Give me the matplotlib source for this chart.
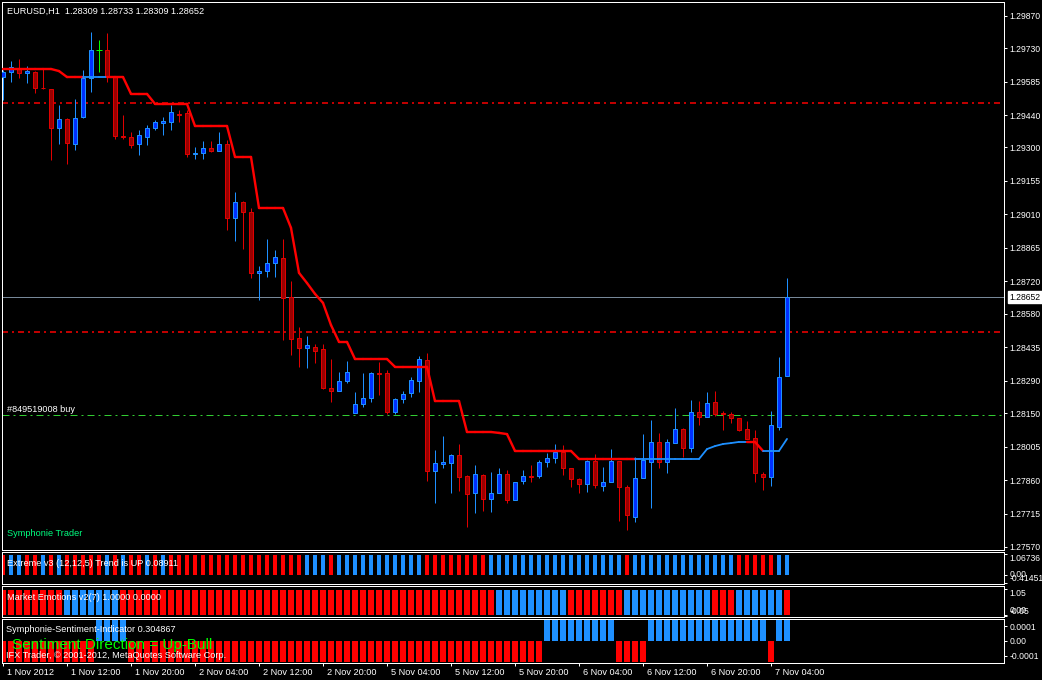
import matplotlib
matplotlib.use("Agg")
import matplotlib.pyplot as plt
from matplotlib.patches import Rectangle
from matplotlib.collections import LineCollection
import matplotlib.transforms as mtrans

plt.rcParams['font.family'] = ['Liberation Sans Narrow', 'Liberation Sans', 'DejaVu Sans']
plt.rcParams['lines.scale_dashes'] = False

# ---------------- data (EURUSD H1) ----------------
time_labels = ["1 Nov 2012", "1 Nov 12:00", "1 Nov 20:00", "2 Nov 04:00", "2 Nov 12:00",
               "2 Nov 20:00", "5 Nov 04:00", "5 Nov 12:00", "5 Nov 20:00", "6 Nov 04:00",
               "6 Nov 12:00", "6 Nov 20:00", "7 Nov 04:00"]
time_label_bars = [0, 8, 16, 24, 32, 40, 48, 56, 64, 72, 80, 88, 96]

opens = [1.29605, 1.29627, 1.29644, 1.29623, 1.29627, 1.29558, 1.29553, 1.29385, 1.29424, 1.29315,
         1.29432, 1.29601, 1.29722, 1.29722, 1.29605, 1.29350, 1.29346, 1.29315, 1.29346, 1.29385,
         1.29406, 1.29411, 1.29445, 1.29450, 1.29272, 1.29276, 1.29298, 1.29285, 1.29315, 1.28995,
         1.29064, 1.29021, 1.28757, 1.28765, 1.28800, 1.28822, 1.28653, 1.28475, 1.28432, 1.28436,
         1.28427, 1.28259, 1.28246, 1.28289, 1.28150, 1.28189, 1.28215, 1.28324, 1.28324, 1.28155,
         1.28211, 1.28237, 1.28289, 1.28380, 1.27899, 1.27929, 1.27934, 1.27968, 1.27877, 1.27804,
         1.27882, 1.27778, 1.27804, 1.27886, 1.27774, 1.27856, 1.27877, 1.27877, 1.27938, 1.27955,
         1.27981, 1.27912, 1.27864, 1.27843, 1.27942, 1.27834, 1.27851, 1.27942, 1.27830, 1.27700,
         1.27869, 1.27938, 1.28025, 1.27938, 1.28020, 1.28081, 1.27999, 1.28155, 1.28133, 1.28198,
         1.28150, 1.28146, 1.28129, 1.28081, 1.28042, 1.27886, 1.27873, 1.28090, 1.28309]
highs = [1.29636, 1.29675, 1.29683, 1.29653, 1.29631, 1.29640, 1.29555, 1.29484, 1.29428, 1.29510,
         1.29636, 1.29800, 1.29766, 1.29796, 1.29605, 1.29441, 1.29367, 1.29376, 1.29398, 1.29419,
         1.29432, 1.29484, 1.29463, 1.29463, 1.29302, 1.29328, 1.29328, 1.29367, 1.29333, 1.29107,
         1.29068, 1.29038, 1.28787, 1.28904, 1.28856, 1.28904, 1.28722, 1.28523, 1.28484, 1.28449,
         1.28449, 1.28384, 1.28328, 1.28376, 1.28241, 1.28324, 1.28328, 1.28371, 1.28337, 1.28215,
         1.28246, 1.28306, 1.28397, 1.28410, 1.27990, 1.28051, 1.27973, 1.28016, 1.27882, 1.27925,
         1.27886, 1.27895, 1.27912, 1.27903, 1.27851, 1.27903, 1.27925, 1.27947, 1.27977, 1.28016,
         1.28012, 1.27912, 1.27869, 1.27947, 1.27973, 1.27916, 1.27994, 1.27942, 1.27838, 1.27960,
         1.28059, 1.28120, 1.28064, 1.28038, 1.28172, 1.28085, 1.28207, 1.28202, 1.28241, 1.28246,
         1.28159, 1.28155, 1.28129, 1.28116, 1.28077, 1.27895, 1.28159, 1.28393, 1.28733]
lows = [1.29506, 1.29584, 1.29601, 1.29579, 1.29536, 1.29553, 1.29246, 1.29315, 1.29229, 1.29289,
        1.29428, 1.29541, 1.29627, 1.29584, 1.29337, 1.29337, 1.29298, 1.29268, 1.29311, 1.29376,
        1.29354, 1.29376, 1.29411, 1.29259, 1.29250, 1.29250, 1.29281, 1.29285, 1.28943, 1.28895,
        1.28861, 1.28735, 1.28640, 1.28739, 1.28739, 1.28466, 1.28401, 1.28350, 1.28345, 1.28367,
        1.28255, 1.28198, 1.28246, 1.28280, 1.28150, 1.28176, 1.28198, 1.28228, 1.28146, 1.28146,
        1.28194, 1.28220, 1.28241, 1.27856, 1.27761, 1.27912, 1.27804, 1.27812, 1.27657, 1.27717,
        1.27726, 1.27722, 1.27804, 1.27761, 1.27774, 1.27843, 1.27851, 1.27869, 1.27916, 1.27934,
        1.27882, 1.27830, 1.27804, 1.27808, 1.27825, 1.27812, 1.27851, 1.27683, 1.27644, 1.27678,
        1.27869, 1.27739, 1.27912, 1.27890, 1.28020, 1.27960, 1.27981, 1.28098, 1.28133, 1.28137,
        1.28077, 1.28107, 1.28072, 1.28038, 1.27851, 1.27817, 1.27834, 1.28077, 1.28309]
closes = [1.29627, 1.29649, 1.29623, 1.29631, 1.29558, 1.29556, 1.29385, 1.29424, 1.29320, 1.29428,
          1.29601, 1.29722, 1.29722, 1.29605, 1.29350, 1.29346, 1.29311, 1.29354, 1.29385, 1.29411,
          1.29415, 1.29454, 1.29441, 1.29272, 1.29276, 1.29298, 1.29285, 1.29315, 1.28995, 1.29064,
          1.29021, 1.28757, 1.28765, 1.28800, 1.28826, 1.28648, 1.28471, 1.28432, 1.28445, 1.28419,
          1.28259, 1.28246, 1.28289, 1.28328, 1.28189, 1.28215, 1.28324, 1.28319, 1.28155, 1.28211,
          1.28233, 1.28293, 1.28384, 1.27899, 1.27934, 1.27938, 1.27968, 1.27873, 1.27799, 1.27886,
          1.27778, 1.27804, 1.27886, 1.27774, 1.27851, 1.27877, 1.27873, 1.27938, 1.27955, 1.27981,
          1.27912, 1.27864, 1.27843, 1.27942, 1.27838, 1.27851, 1.27942, 1.27830, 1.27709, 1.27869,
          1.27947, 1.28025, 1.27938, 1.28025, 1.28081, 1.27999, 1.28155, 1.28133, 1.28194, 1.28146,
          1.28146, 1.28129, 1.28077, 1.28038, 1.27890, 1.27873, 1.28098, 1.28306, 1.28652]

# trailing stop line of "Symphonie Trader"
trail = [1.29640, 1.29640, 1.29640, 1.29640, 1.29640, 1.29640, 1.29640, 1.29631, 1.29605, 1.29605,
         1.29605, 1.29605, 1.29605, 1.29605, 1.29605, 1.29605, 1.29532, 1.29532, 1.29532, 1.29489,
         1.29489, 1.29489, 1.29489, 1.29489, 1.29393, 1.29393, 1.29393, 1.29393, 1.29393, 1.29259,
         1.29259, 1.29259, 1.29038, 1.29038, 1.29038, 1.29038, 1.28952, 1.28757, 1.28713, 1.28666,
         1.28627, 1.28531, 1.28458, 1.28458, 1.28384, 1.28384, 1.28384, 1.28384, 1.28384, 1.28350,
         1.28350, 1.28350, 1.28350, 1.28350, 1.28202, 1.28202, 1.28202, 1.28202, 1.28068, 1.28068,
         1.28068, 1.28068, 1.28064, 1.28059, 1.27986, 1.27986, 1.27986, 1.27986, 1.27986, 1.27986,
         1.27986, 1.27986, 1.27951, 1.27951, 1.27951, 1.27951, 1.27951, 1.27951, 1.27951, 1.27951,
         1.27951, 1.27951, 1.27951, 1.27951, 1.27951, 1.27951, 1.27951, 1.27951, 1.27994, 1.28007,
         1.28016, 1.28020, 1.28025, 1.28025, 1.28025, 1.27986, 1.27986, 1.27986, 1.28038]
trail_dir = ("DDDDDDDDDDUUUUDDDDDDDDDDDDDDDDDDDDDDDDDDDDDDDDDDDDDDDDDDDDDDDDDDDDDDDDDDDDDDDDDUUUUUUUUUUUUUUUDUUUU")

price_ticks = [1.29870, 1.29730, 1.29585, 1.29440, 1.29300, 1.29155, 1.29010, 1.28865, 1.28720,
               1.28580, 1.28435, 1.28290, 1.28150, 1.28005, 1.27860, 1.27715, 1.27570]
last_price = 1.28652
level_upper = 1.29493
level_lower = 1.28501
order_price = 1.28142

# indicator sub-windows (R = red / down, B = blue / up)
extreme_cols = ("RBBRRBRBRRRRRBRBRRBRBRR" + "RRRRRRRRRRRRRRRBBBRBBBBBBBBBBBRRRRRRRR"
                + "BBBBBBBBBBBBBBBBBRBBBBBBBBBBBBBRRRRRBB")
extreme_val = 1.0
emotion_cols = ("RRRRRRRRBBBBBBBRRRRRRRRRRRRRRRRRRRRRRRRRRRRRRRRRRRRRRRRRRRRRRR"
                "BBBBBBBBBRRRRRRRBBBBBBBBBBBRRRBBBBBB")
emotion_val = 1.0
sentiment_cols = ("RRRRRRRRRRRRBBBBRRRRRRRRRRRRRRRRRRRRRRRRRRRRRRRRRRRRRRRRRRRRRRRRRRRR"
                  "BBBBBBBBBRRRRBBBBBBBBBBBBBBBRBB")
sentiment_mag = 0.00014

# ---------------- drawing ----------------
W, H, DPI = 1042, 680, 100
PX = 72.0 / DPI
RED, BLUE = '#ff0000', '#1e90ff'
FS = 6.6
TFS = 6.2

fig = plt.figure(figsize=(W / DPI, H / DPI), dpi=DPI, facecolor='black')


def box(x0, y0, x1, y1):
    return [x0 / W, 1 - y1 / H, (x1 - x0) / W, (y1 - y0) / H]


def style(ax):
    ax.set_facecolor('black')
    for s in ax.spines.values():
        s.set_color('white')
        s.set_linewidth(PX)
    ax.set_xlim(-0.125, 125.125)
    ax.yaxis.tick_right()
    ax.tick_params(axis='y', colors='white', direction='out', length=3 * PX, width=PX,
                   pad=2.5 * PX, labelsize=TFS, labelcolor='white')
    ax.tick_params(axis='x', bottom=False, labelbottom=False)


def ftext(x, y, s, **kw):
    kw.setdefault('color', 'white')
    kw.setdefault('fontsize', FS)
    fig.text(x / W, 1 - y / H, s, va='center', ha='left', **kw)


n = len(opens)
xs = list(range(n))

# main window
ax = fig.add_axes(box(2, 2, 1004, 550))
style(ax)
ax.set_ylim(1.27557, 1.29930)
ax.set_yticks(price_ticks)
ax.set_yticklabels(["%.5f" % v for v in price_ticks])

dd = (0, (6 * PX, 4 * PX, 2 * PX, 4 * PX))
ax.axhline(level_upper, color=RED, lw=1.5 * PX, ls=dd, zorder=1)
ax.axhline(level_lower, color=RED, lw=1.5 * PX, ls=dd, zorder=1)
ax.axhline(order_price, color='#32cd32', lw=PX, ls=(0, (7 * PX, 4 * PX, 2 * PX, 4 * PX)), zorder=1)
ax.axhline(last_price, color='#778899', lw=PX, zorder=1)

for i in xs:
    o, h, l, c = opens[i], highs[i], lows[i], closes[i]
    if c > o:
        wick, fill = BLUE, '#0030ff'
    elif c < o:
        wick, fill = '#e00000', '#990000'
    else:
        wick, fill = '#00ff00', None
    ax.vlines(i, l, h, color=wick, lw=PX, zorder=3)
    if fill is None:
        ax.hlines(o, i - 0.32, i + 0.32, color=wick, lw=PX, zorder=4)
    else:
        ax.add_patch(Rectangle((i - 0.25, min(o, c)), 0.5, abs(c - o), facecolor=fill,
                               edgecolor=wick, lw=PX, zorder=4))

segs, cols, lws = [], [], []
for i in range(n - 1):
    segs.append([(i, trail[i]), (i + 1, trail[i + 1])])
    up = trail_dir[i] == 'U' and trail_dir[i + 1] == 'U'
    cols.append(BLUE if up else RED)
    lws.append(1.8 * PX if up else 2.4 * PX)
ax.add_collection(LineCollection(segs, colors=cols, linewidths=lws, capstyle='round', zorder=5))

ax.annotate("%.5f" % last_price, xy=(1, last_price), xycoords=('axes fraction', 'data'),
            xytext=(5.5 * PX, 0), textcoords='offset points', ha='left', va='center',
            color='black', fontsize=TFS, annotation_clip=False,
            bbox=dict(boxstyle='square,pad=0.15', fc='white', ec='white'))

ftext(7, 11, "EURUSD,H1  1.28309 1.28733 1.28309 1.28652")
ftext(7, 409, "#849519008 buy")
ftext(7, 533, "Symphonie Trader", color='#00ff80')

# Extreme v3
ax1 = fig.add_axes(box(2, 552, 1004, 584))
style(ax1)
ax1.set_ylim(-0.457, 1.1675)
ax1.bar(xs, [extreme_val] * n, width=0.6, color=[RED if ch == 'R' else BLUE for ch in extreme_cols])
ax1.set_yticks([1.06736, 0.0, -0.41451])
ax1.set_yticklabels(["1.06736", "0.00", "-0.41451"])
for lab, va in zip(ax1.get_yticklabels(), ['top', 'center', 'bottom']):
    lab.set_va(va)
ftext(7, 563, "Extreme v3 (12,12,5) Trend is UP 0.08911")

# Market Emotions
ax2 = fig.add_axes(box(2, 586, 1004, 617))
style(ax2)
ax2.set_ylim(-0.08, 1.16)
ax2.bar(xs, [emotion_val] * n, width=0.86, color=[RED if ch == 'R' else BLUE for ch in emotion_cols])
ax2.set_yticks([1.05, 0.0, -0.05])
ax2.set_yticklabels(["1.05", "0.00", "-0.05"])
for lab, va in zip(ax2.get_yticklabels(), ['top', 'bottom', 'bottom']):
    lab.set_va(va)
ftext(7, 598, "Market Emotions v2(7) 1.0000 0.0000")

# Sentiment
ax3 = fig.add_axes(box(2, 619, 1004, 663))
style(ax3)
ax3.set_ylim(-0.0001467, 0.0001467)
sent_vals = [sentiment_mag if ch == 'B' else -sentiment_mag for ch in sentiment_cols]
ax3.bar(xs, sent_vals, width=0.86, color=[RED if ch == 'R' else BLUE for ch in sentiment_cols])
ax3.set_yticks([0.0001, 0.0, -0.0001])
ax3.set_yticklabels(["0.0001", "0.00", "-0.0001"])
ax3.tick_params(axis='x', bottom=True, labelbottom=True, colors='white', direction='out',
                length=3 * PX, width=PX, pad=2 * PX, labelsize=FS, labelcolor='white')
ax3.set_xticks(time_label_bars)
ax3.set_xticklabels(time_labels)
off = mtrans.ScaledTranslation(4 / DPI, 0, fig.dpi_scale_trans)
for lab in ax3.get_xticklabels():
    lab.set_ha('left')
    lab.set_transform(lab.get_transform() + off)
ftext(6, 629, "Symphonie-Sentiment-Indicator 0.304867")
ftext(12, 645, "Sentiment Direction = Up-Bull", color='#00ff00', fontsize=11)
ftext(6, 656, "IFX Trader, \u00a9 2001-2012, MetaQuotes Software Corp.")

fig.savefig("out.png", dpi=DPI, facecolor='black')
